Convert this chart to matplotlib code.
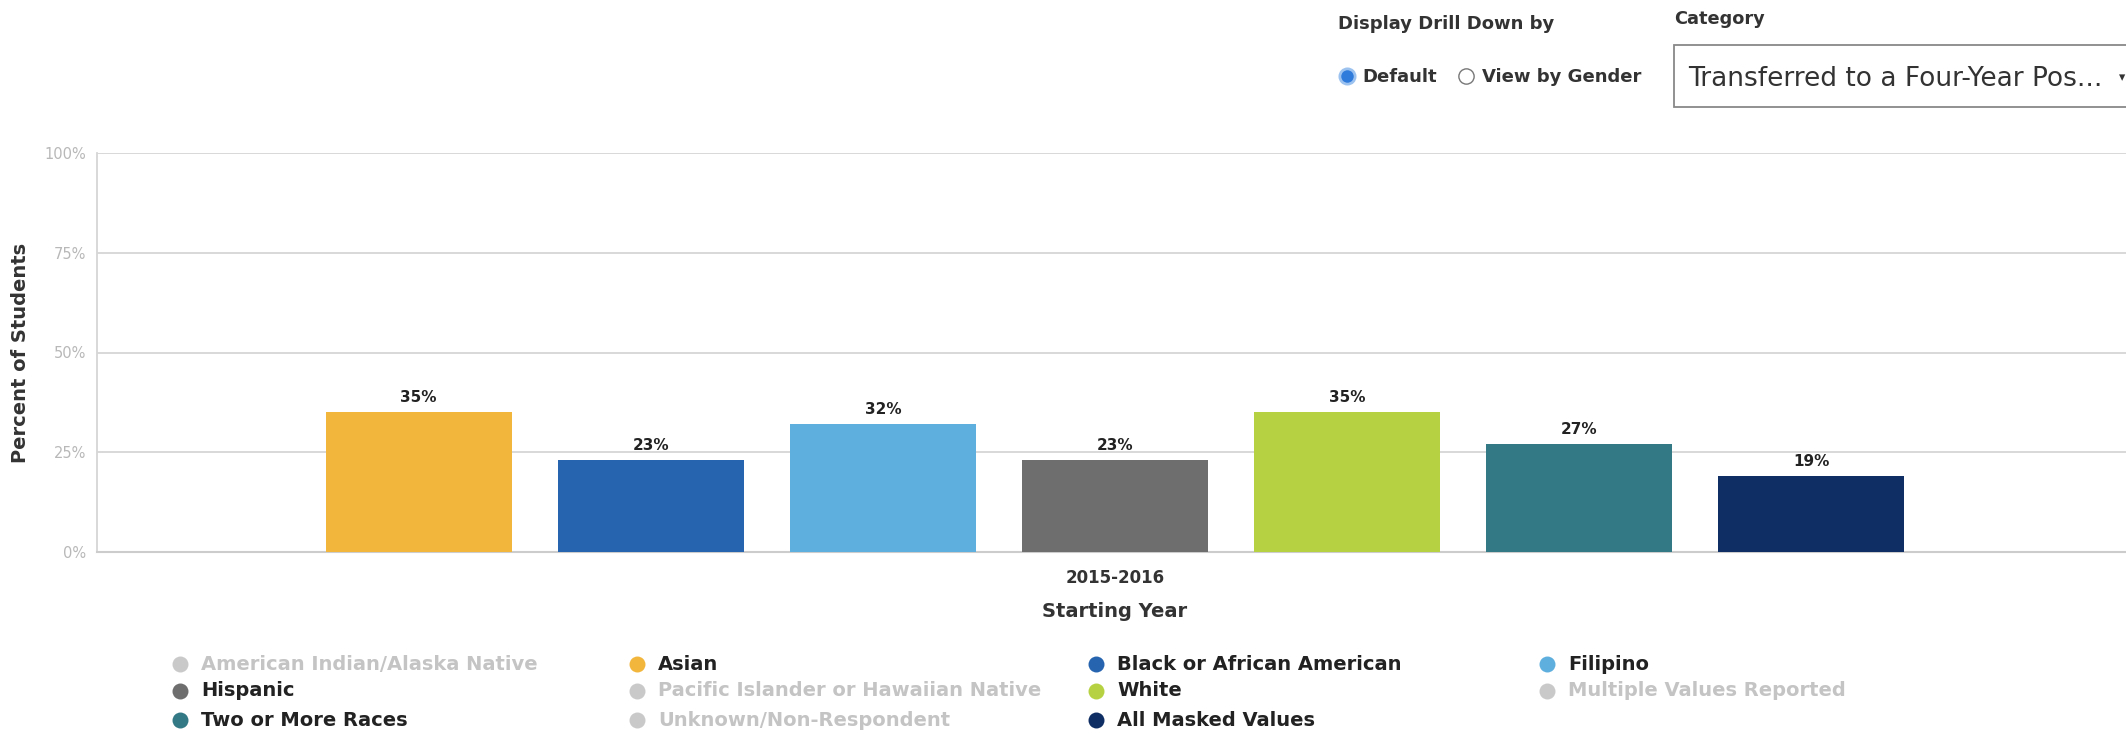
import matplotlib
matplotlib.use("Agg")
import matplotlib.pyplot as plt
from matplotlib.lines import Line2D
from matplotlib.patches import Rectangle

plt.rcParams['font.family'] = ['DejaVu Sans']

# series shown in the legend, in legend order (row by row, 4 columns)
groups = ["American Indian/Alaska Native", "Asian", "Black or African American", "Filipino",
          "Hispanic", "Pacific Islander or Hawaiian Native", "White", "Multiple Values Reported",
          "Two or More Races", "Unknown/Non-Respondent", "All Masked Values"]
group_colors = ["#c9c9c9", "#f2b63d", "#2664b0", "#5fafde",
                "#6e6e6e", "#c9c9c9", "#b6d243", "#c9c9c9",
                "#337985", "#c9c9c9", "#0f2e63"]
group_shown = [False, True, True, True, True, False, True, False, True, False, True]

# values for the visible series (percent of students)
years = ["2015-2016"]
values = {"Asian": 35, "Black or African American": 23, "Filipino": 32, "Hispanic": 23,
          "White": 35, "Two or More Races": 27, "All Masked Values": 19}

yticks = [0, 25, 50, 75, 100]

W, H = 2126, 734
fig = plt.figure(figsize=(W / 100, H / 100), dpi=100)
ax = fig.add_axes([97 / W, (H - 552) / H, 2036 / W, 399 / H])


def dot(x, y, face, edge=None, size=11.5, lw=0):
    # round marker placed in pixel coordinates from the top-left corner
    fig.add_artist(Line2D([x / W], [(H - y) / H], transform=fig.transFigure, marker="o",
                          markersize=size, markerfacecolor=face,
                          markeredgecolor=edge or face, markeredgewidth=lw, linestyle="none"))


visible = [g for g, s in zip(groups, group_shown) if s]
colors = [c for c, s in zip(group_colors, group_shown) if s]
step = 0.114
width = 0.0914
n = len(visible)
for i, (g, c) in enumerate(zip(visible, colors)):
    x = (i - (n - 1) / 2) * step
    v = values[g]
    ax.bar(x, v, width=width, color=c, zorder=3)
    ax.annotate(f"{v}%", (x, v), xytext=(0, 5), textcoords="offset points",
                ha="center", va="bottom", fontsize=11, fontweight="bold", color="#222222")

ax.set_xlim(-0.5, 0.5)
ax.set_ylim(0, 100)
ax.set_yticks(yticks)
ax.set_yticklabels([f"{t}%" for t in yticks], fontsize=10.5, color="#b8b8b8")
ax.set_xticks([0])
ax.set_xticklabels(years, fontsize=12, fontweight="bold", color="#333333")
ax.tick_params(axis="y", length=0, pad=8)
ax.tick_params(axis="x", length=0, pad=12)
ax.grid(axis="y", color="#d6d6d6", linewidth=1.3, zorder=0)
for s in ["top", "right"]:
    ax.spines[s].set_visible(False)
ax.spines["left"].set_color("#d6d6d6")
ax.spines["left"].set_linewidth(1.3)
ax.spines["bottom"].set_color("#cccccc")
ax.spines["bottom"].set_linewidth(1.5)
ax.set_ylabel("Percent of Students", fontsize=14, fontweight="bold", color="#333333", labelpad=10)
ax.set_xlabel("Starting Year", fontsize=14, fontweight="bold", color="#333333", labelpad=11)

# legend, drawn as a grid of dots and labels
col_x = [180, 637, 1096, 1547]
row_y = [664, 691, 720]
for k, (g, c, s) in enumerate(zip(groups, group_colors, group_shown)):
    cx, ry = col_x[k % 4], row_y[k // 4]
    dot(cx, ry, c)
    fig.text((cx + 21) / W, (H - ry) / H, g, ha="left", va="center", fontsize=14,
             fontweight="bold", color="#222222" if s else "#c4c4c4")

# drill-down controls above the chart
fig.text(1338 / W, (H - 24) / H, "Display Drill Down by", ha="left", va="center",
         fontsize=13, fontweight="bold", color="#333333")
fig.text(1674 / W, (H - 19) / H, "Category", ha="left", va="center",
         fontsize=12.8, fontweight="bold", color="#333333")
dot(1347, 76, "#2f7bdc", "#9cc3f0", size=11, lw=2)
fig.text(1362 / W, (H - 77) / H, "Default", ha="left", va="center",
         fontsize=13, fontweight="bold", color="#333333")
dot(1466, 76, "white", "#777777", size=11, lw=1)
fig.text(1482 / W, (H - 77) / H, "View by Gender", ha="left", va="center",
         fontsize=13, fontweight="bold", color="#333333")
fig.add_artist(Rectangle((1674 / W, (H - 107) / H), 470 / W, 62 / H,
                         transform=fig.transFigure, facecolor="white",
                         edgecolor="#888888", linewidth=1.3))
fig.text(1688 / W, (H - 79) / H, "Transferred to a Four-Year Pos...", ha="left", va="center",
         fontsize=19, color="#333333")
fig.text(2125 / W, (H - 78) / H, "\u25be", ha="right", va="center", fontsize=9, color="#333333")

fig.savefig("out.png", dpi=100, facecolor="white")
